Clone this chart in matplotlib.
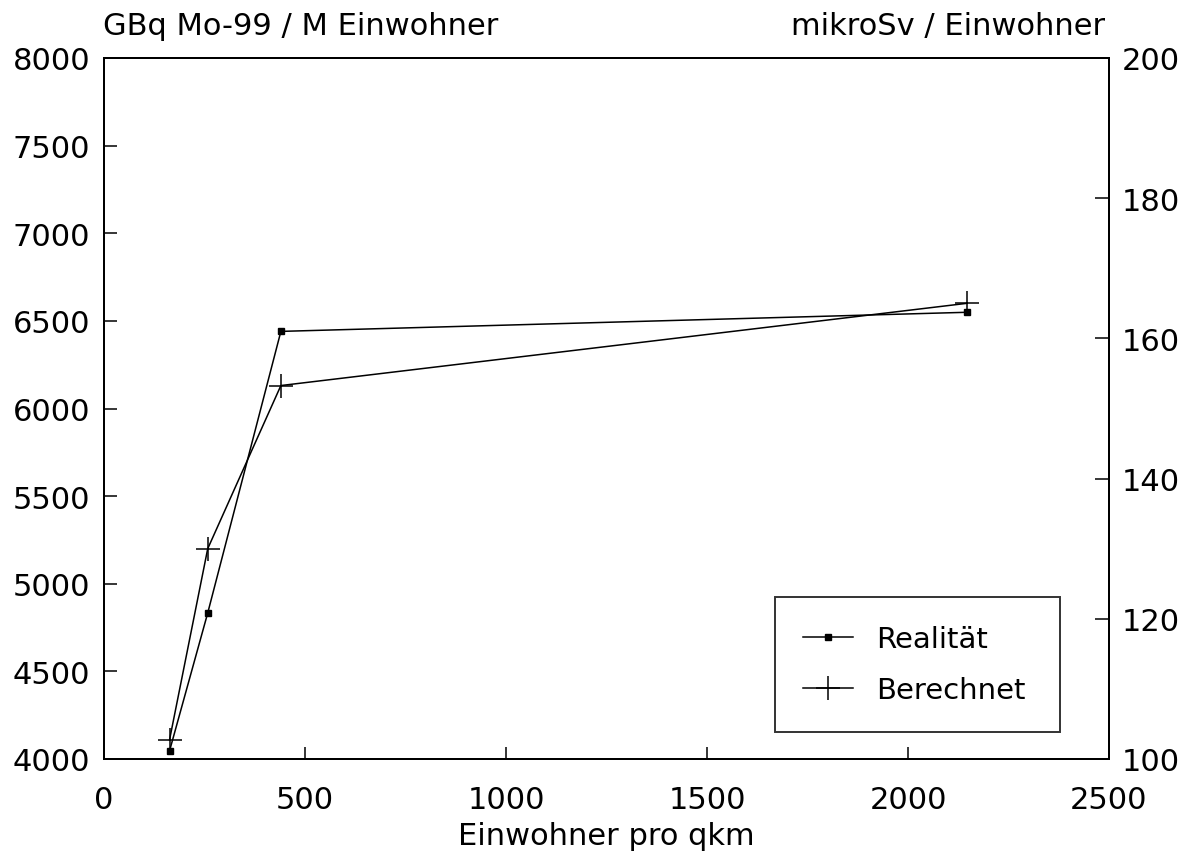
import matplotlib

matplotlib.use("Agg")
import matplotlib.pyplot as plt

# values
density = [163, 258, 440, 2146]          # Einwohner pro qkm
realitaet = [4046, 4833, 6440, 6549]     # GBq Mo-99 / M Einwohner
berechnet = [4109, 5200, 6131, 6600]

x_ticks = [0, 500, 1000, 1500, 2000, 2500]
left_ticks = [4000, 4500, 5000, 5500, 6000, 6500, 7000, 7500, 8000]
right_ticks = [100, 120, 140, 160, 180, 200]

FS = 22

plt.rcParams["font.family"] = "DejaVu Sans"

fig = plt.figure(figsize=(11.84, 8.53), dpi=100)
ax = fig.add_axes([104 / 1184, 1 - 760 / 853, 1005 / 1184, 701 / 853])

ax.plot(density, realitaet, color="black", lw=1.1, marker="s", ms=5,
        mfc="black", mec="black", label="Realität")
ax.plot(density, berechnet, color="black", lw=1.1, marker="+", ms=17,
        mew=1.1, label="Berechnet")

ax.set_xlim(0, 2500)
ax.set_ylim(4000, 8000)
ax.set_xticks(x_ticks)
ax.set_yticks(left_ticks)
ax.tick_params(axis="both", direction="in", length=9, width=1.1,
               labelsize=FS, colors="black")
ax.tick_params(axis="x", pad=19)
ax.tick_params(axis="y", pad=10)
ax.set_xlabel("Einwohner pro qkm", fontsize=FS, labelpad=5)
for sp in ax.spines.values():
    sp.set_linewidth(1.4)

ax2 = ax.twinx()
ax2.set_ylim(100, 200)
ax2.set_yticks(right_ticks)
ax2.tick_params(axis="y", direction="in", length=10, width=1.1,
                labelsize=FS, pad=9)
for sp in ax2.spines.values():
    sp.set_linewidth(1.4)

fig.text(103 / 1184, 1 - 35 / 853, "GBq Mo-99 / M Einwohner", fontsize=FS,
         ha="left", va="baseline")
fig.text(1105 / 1184, 1 - 35 / 853, "mikroSv / Einwohner", fontsize=FS,
         ha="right", va="baseline")

leg = ax.legend(loc="lower left", bbox_to_anchor=(0.668, 0.0385, 0.283, 0.191),
                mode="expand", fontsize=21, frameon=True, fancybox=False,
                handlelength=1.7, handletextpad=0.8, labelspacing=0.8,
                borderpad=0.95, borderaxespad=0)
leg.get_frame().set_edgecolor("black")
leg.get_frame().set_linewidth(1.4)
leg.set_zorder(5)

fig.savefig("out.png", dpi=100)
